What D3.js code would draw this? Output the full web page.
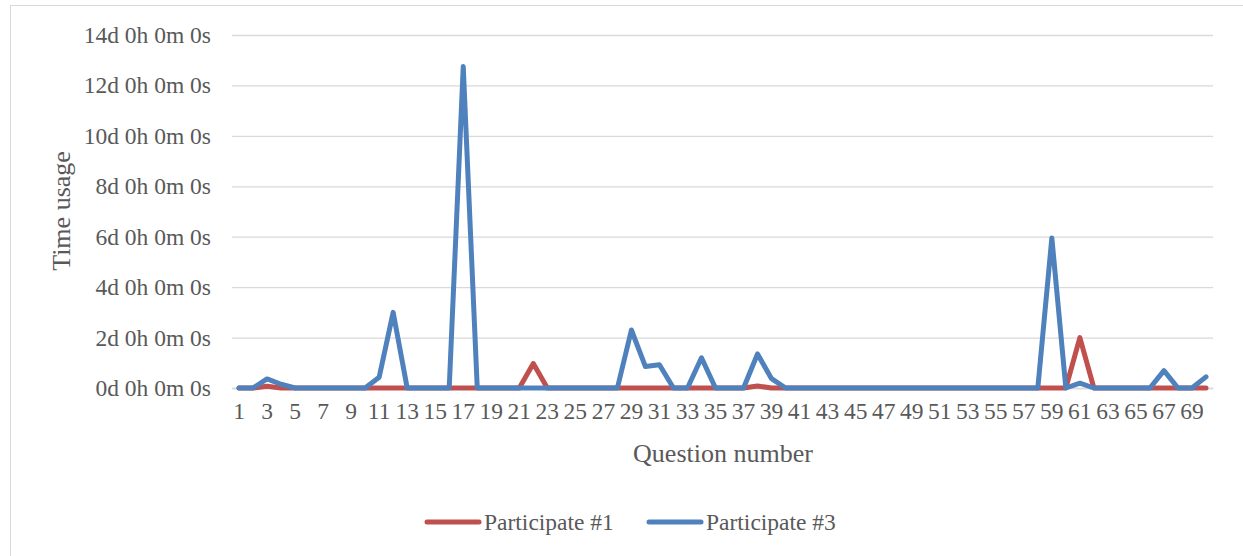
<!DOCTYPE html>
<html>
<head>
<meta charset="utf-8">
<script src="https://cdn.jsdelivr.net/npm/d3@7/dist/d3.min.js"></script>
<style>
  html, body { margin: 0; padding: 0; background: #fff; }
  svg { display: block; }
  text { font-family: "Liberation Serif", "Times New Roman", serif; fill: #595959; }
</style>
</head>
<body>
<svg id="chart" width="1243" height="556"></svg>
<script>
// Question numbers 1..70
const questions = d3.range(1, 71);

// Time used per question, in days
const participant1 = [
  0, 0, 0.07, 0, 0, 0, 0, 0, 0, 0,
  0, 0, 0, 0, 0, 0, 0, 0, 0, 0,
  0, 0.97, 0, 0, 0, 0, 0, 0, 0, 0,
  0, 0, 0, 0, 0, 0, 0, 0.08, 0, 0,
  0, 0, 0, 0, 0, 0, 0, 0, 0, 0,
  0, 0, 0, 0, 0, 0, 0, 0, 0, 0,
  2.0, 0, 0, 0, 0, 0, 0, 0, 0, 0
];
const participant3 = [
  0, 0, 0.36, 0.15, 0, 0, 0, 0, 0, 0,
  0.43, 3.0, 0, 0, 0, 0, 12.75, 0, 0, 0,
  0, 0, 0, 0, 0, 0, 0, 0, 2.3, 0.85,
  0.92, 0, 0, 1.2, 0, 0, 0, 1.35, 0.37, 0,
  0, 0, 0, 0, 0, 0, 0, 0, 0, 0,
  0, 0, 0, 0, 0, 0, 0, 0, 5.95, 0,
  0.19, 0, 0, 0, 0, 0, 0.69, 0, 0, 0.44
];

const seriesNames = ["Participate #1", "Participate #3"];
const seriesColors = ["#C0504D", "#4F81BD"];
const yTicks = [0, 2, 4, 6, 8, 10, 12, 14];
const xLabels = questions.filter(q => q % 2 === 1);

const svg = d3.select("#chart");

// outer chart frame
svg.append("rect")
  .attr("x", 10.5).attr("y", 5.5)
  .attr("width", 1240).attr("height", 560)
  .attr("fill", "none").attr("stroke", "#D9D9D9").attr("stroke-width", 1);

const plotLeft = 232, plotRight = 1213, plotTop = 35, plotBottom = 388;

const x = d3.scaleBand().domain(questions).range([plotLeft, plotRight]).padding(0);
const y = d3.scaleLinear().domain([0, 14]).range([plotBottom, plotTop]);
const cx = q => x(q) + x.bandwidth() / 2;

const fmt = v => `${v}d 0h 0m 0s`;

// horizontal gridlines and y labels
const yAxis = d3.axisLeft(y).tickValues(yTicks).tickFormat(fmt)
  .tickSize(-(plotRight - plotLeft)).tickPadding(21);
const gy = svg.append("g").attr("transform", `translate(${plotLeft},0)`).call(yAxis);
gy.select(".domain").remove();
gy.selectAll(".tick line").attr("stroke", "#D9D9D9").attr("stroke-width", 1.3);
gy.selectAll(".tick text")
  .style("font-size", "23.5px").attr("fill", "#595959")
  .attr("font-family", "Liberation Serif");

// category axis labels
const xAxis = d3.axisBottom(x).tickValues(xLabels).tickSize(0).tickPadding(14);
const gx = svg.append("g").attr("transform", `translate(0,${plotBottom})`).call(xAxis);
gx.select(".domain").attr("stroke", "#D9D9D9").attr("stroke-width", 1.3);
gx.selectAll(".tick text")
  .style("font-size", "23.5px").attr("fill", "#595959")
  .attr("font-family", "Liberation Serif");

// axis titles
svg.append("text")
  .attr("x", 723).attr("y", 462)
  .attr("text-anchor", "middle")
  .style("font-size", "26px")
  .text("Question number");

svg.append("text")
  .attr("transform", "translate(70,211) rotate(-90)")
  .attr("text-anchor", "middle")
  .style("font-size", "26px")
  .text("Time usage");

// series lines
const line = d3.line().x((d, i) => cx(questions[i])).y(d => y(d));
[participant1, participant3].forEach((vals, k) => {
  svg.append("path")
    .datum(vals)
    .attr("d", line)
    .attr("fill", "none")
    .attr("stroke", seriesColors[k])
    .attr("stroke-width", 5)
    .attr("stroke-linejoin", "round")
    .attr("stroke-linecap", "round");
});

// legend
const legendItems = [{x: 425}, {x: 647}];
legendItems.forEach((it, k) => {
  svg.append("line")
    .attr("x1", it.x + 2).attr("x2", it.x + 54)
    .attr("y1", 522).attr("y2", 522)
    .attr("stroke", seriesColors[k]).attr("stroke-width", 5)
    .attr("stroke-linecap", "round");
  svg.append("text")
    .attr("x", it.x + 59).attr("y", 530)
    .style("font-size", "23.5px")
    .text(seriesNames[k]);
});
</script>
</body>
</html>
